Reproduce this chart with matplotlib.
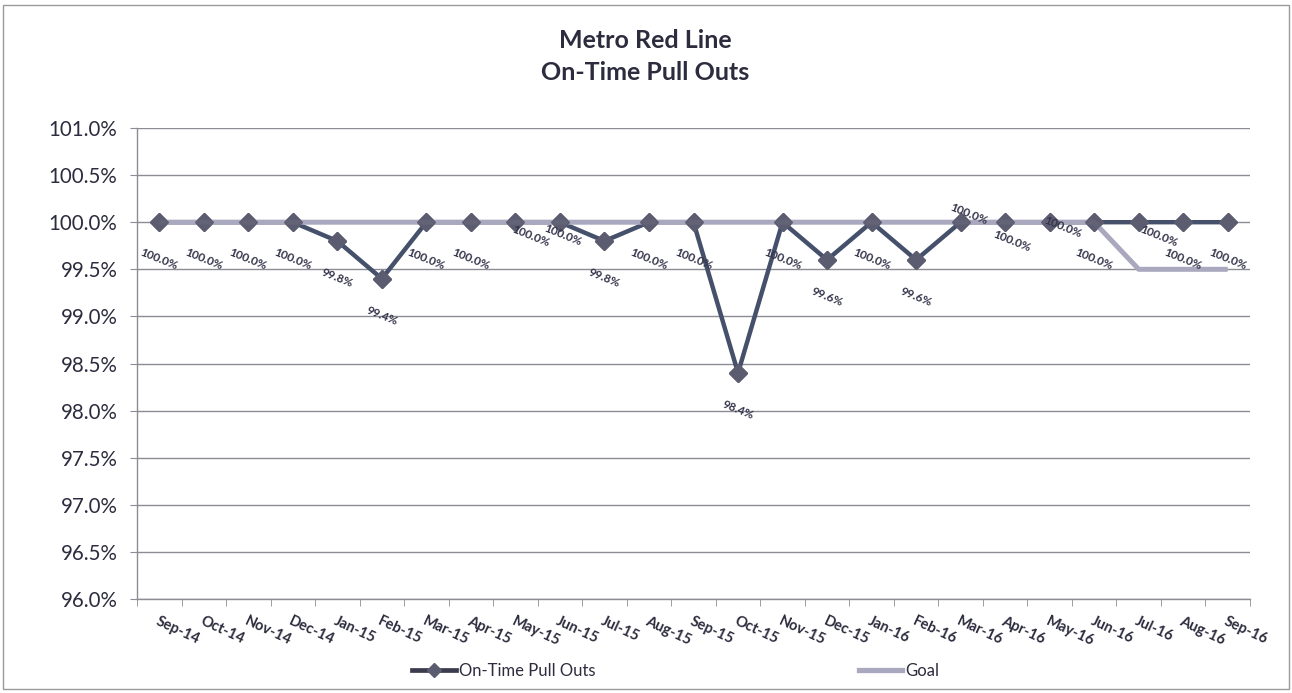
import matplotlib
matplotlib.use("Agg")
import matplotlib.pyplot as plt
from matplotlib.lines import Line2D
from matplotlib.patches import Rectangle
from matplotlib.ticker import FixedLocator, FuncFormatter

plt.rcParams["font.family"] = ["Lato", "DejaVu Sans"]

months = ["Sep-14", "Oct-14", "Nov-14", "Dec-14", "Jan-15", "Feb-15", "Mar-15",
          "Apr-15", "May-15", "Jun-15", "Jul-15", "Aug-15", "Sep-15", "Oct-15",
          "Nov-15", "Dec-15", "Jan-16", "Feb-16", "Mar-16", "Apr-16", "May-16",
          "Jun-16", "Jul-16", "Aug-16", "Sep-16"]
on_time = [100.0, 100.0, 100.0, 100.0, 99.8, 99.4, 100.0, 100.0, 100.0, 100.0,
           99.8, 100.0, 100.0, 98.4, 100.0, 99.6, 100.0, 99.6, 100.0, 100.0,
           100.0, 100.0, 100.0, 100.0, 100.0]
goal = [100.0] * 22 + [99.5, 99.5, 99.5]
y_ticks = [96.0, 96.5, 97.0, 97.5, 98.0, 98.5, 99.0, 99.5, 100.0, 100.5, 101.0]

# data-label placement (pixels right / down from the marker)
label_shift = [(0, 37)] * 25
label_shift[8] = (15, 14)
label_shift[9] = (3, 13)
label_shift[18] = (8, -8)
label_shift[19] = (7, 19)
label_shift[20] = (13, 5)
label_shift[22] = (20, 14)

W, H = 1292, 693
fig = plt.figure(figsize=(W / 100, H / 100), dpi=100)
fig.patch.set_facecolor("white")

# outer chart frame
fig.add_artist(Rectangle((3 / W, 4 / H), (W - 6) / W, (H - 9) / H,
                         transform=fig.transFigure, fill=False,
                         edgecolor="#9a9a9a", linewidth=1.0))

ax = fig.add_axes([137 / W, 1 - 599 / H, (1250 - 137) / W, (599 - 128) / H])
ax.set_facecolor("white")

text_col = "#2c2c3e"
line_col = "#45506a"
marker_col = "#5c5c70"
goal_col = "#aaa8be"

x = list(range(len(months)))
ax.plot(x, on_time, color=line_col, linewidth=3.2, marker="D", markersize=9,
        markerfacecolor=marker_col, markeredgecolor=marker_col, zorder=3)
ax.plot(x, goal, color=goal_col, linewidth=3.6, zorder=4, solid_capstyle="butt")
# markers sit above the goal line
ax.plot(x, on_time, linestyle="none", marker="D", markersize=9,
        markerfacecolor=marker_col, markeredgecolor=marker_col, zorder=5, alpha=0.9)

for i, v in enumerate(on_time):
    dx, dy = label_shift[i]
    ax.annotate(f"{v:.1f}%", (i, v), xytext=(dx, -dy), textcoords="offset pixels",
                ha="center", va="center", rotation=-22, fontsize=8.5,
                fontweight="bold", color="#33334a", zorder=6)

ax.set_xlim(-0.5, len(months) - 0.5)
ax.set_ylim(96.0, 101.0)
ax.yaxis.set_major_locator(FixedLocator(y_ticks))
ax.yaxis.set_major_formatter(FuncFormatter(lambda v, p: f"{v:.1f}%"))
ax.grid(axis="y", color="#8c8c94", linewidth=1.0, zorder=0)
ax.set_axisbelow(True)

ax.set_xticks(x)
ax.set_xticklabels(months, rotation=-25, ha="left", va="top",
                   rotation_mode="anchor", fontsize=10.5, fontweight="bold",
                   color=text_col)
ax.tick_params(axis="x", which="major", length=0, pad=11)
ax.set_xticks([i - 0.5 for i in range(len(months) + 1)], minor=True)
ax.tick_params(axis="x", which="minor", length=5, color="#8c8c94", direction="out")
ax.tick_params(axis="y", length=5, color="#8c8c94", labelsize=14.8,
               labelcolor=text_col, pad=9)

for s in ["top", "right"]:
    ax.spines[s].set_visible(False)
for s in ["left", "bottom"]:
    ax.spines[s].set_color("#8c8c94")
    ax.spines[s].set_linewidth(1.0)

fig.text(645 / W, 1 - 41 / H, "Metro Red Line", ha="center", va="center",
         fontsize=18, fontweight="bold", color=text_col)
fig.text(645 / W, 1 - 72 / H, "On-Time Pull Outs", ha="center", va="center",
         fontsize=18, fontweight="bold", color=text_col)

handles = [
    Line2D([], [], color="#3b3b4e", linewidth=3.4, marker="D", markersize=7,
           markerfacecolor=marker_col, markeredgecolor=marker_col),
    Line2D([], [], color=goal_col, linewidth=3.8),
]
fig.legend(handles, ["On-Time Pull Outs", "Goal"], loc="center",
           bbox_to_anchor=(676 / W, 1 - 671 / H), ncol=2, frameon=False,
           fontsize=12, handlelength=2.6, handletextpad=0.2,
           columnspacing=15.8, labelcolor=text_col)

fig.savefig("out.png", dpi=100, facecolor="white")
